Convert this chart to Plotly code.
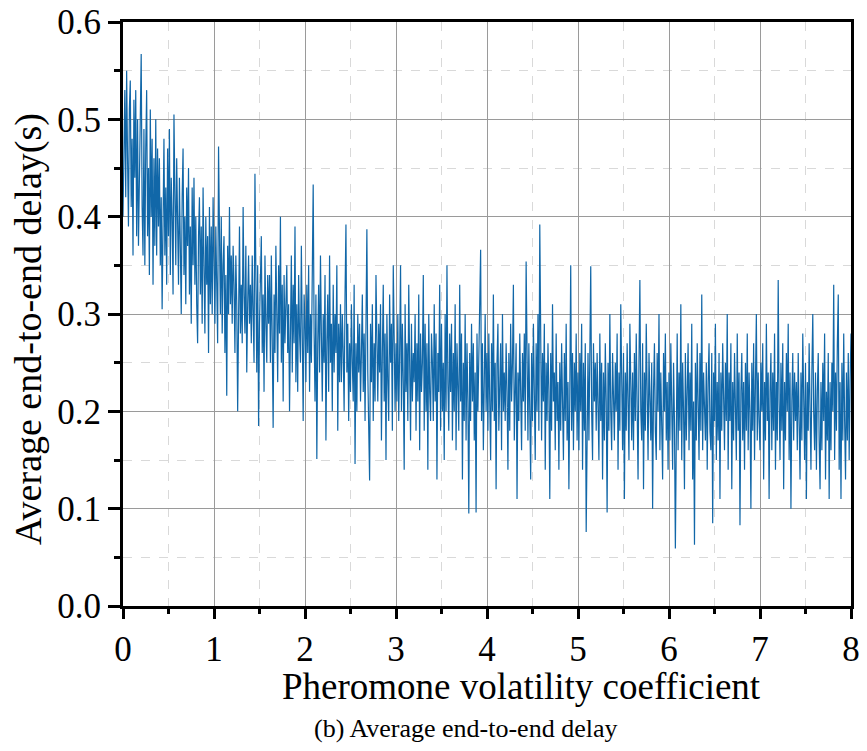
import plotly.graph_objects as go

x_start = 0.0
x_step = 0.01

delay_values = [
    0.40, 0.50, 0.53, 0.42, 0.55, 0.46, 0.39, 0.51, 0.54, 0.41, 0.48, 0.36, 0.52, 0.44, 0.53, 0.38, 0.50, 0.37, 0.46, 0.52,
    0.567, 0.41, 0.36, 0.49, 0.35, 0.47, 0.53, 0.38, 0.45, 0.34, 0.51, 0.40, 0.48, 0.33, 0.46, 0.37, 0.50, 0.36, 0.47, 0.39,
    0.46, 0.35, 0.42, 0.305, 0.45, 0.48, 0.36, 0.43, 0.33, 0.47, 0.38, 0.49, 0.34, 0.44, 0.40, 0.32, 0.505, 0.39, 0.35, 0.46,
    0.41, 0.33, 0.44, 0.36, 0.30, 0.42, 0.47, 0.34, 0.40, 0.31, 0.43, 0.37, 0.45, 0.32, 0.39, 0.29, 0.43, 0.35, 0.44, 0.33,
    0.40, 0.31, 0.27, 0.38, 0.42, 0.32, 0.39, 0.29, 0.43, 0.35, 0.28, 0.40, 0.33, 0.38, 0.26, 0.41, 0.31, 0.39, 0.30, 0.42,
    0.35, 0.29, 0.39, 0.33, 0.27, 0.472, 0.36, 0.30, 0.40, 0.28, 0.35, 0.38, 0.26, 0.34, 0.216, 0.37, 0.30, 0.41, 0.31, 0.36,
    0.29, 0.37, 0.33, 0.26, 0.36, 0.31, 0.200, 0.34, 0.39, 0.28, 0.33, 0.27, 0.41, 0.32, 0.28, 0.37, 0.24, 0.31, 0.36, 0.29,
    0.33, 0.27, 0.36, 0.30, 0.25, 0.444, 0.31, 0.24, 0.35, 0.185, 0.29, 0.34, 0.38, 0.26, 0.32, 0.22, 0.36, 0.29, 0.25, 0.34,
    0.29, 0.34, 0.25, 0.36, 0.27, 0.183, 0.32, 0.26, 0.37, 0.30, 0.23, 0.35, 0.28, 0.40, 0.25, 0.33, 0.21, 0.34, 0.27, 0.31,
    0.35, 0.26, 0.31, 0.20, 0.29, 0.36, 0.24, 0.33, 0.27, 0.39, 0.23, 0.31, 0.22, 0.34, 0.28, 0.25, 0.37, 0.29, 0.19, 0.32,
    0.29, 0.23, 0.33, 0.26, 0.35, 0.22, 0.30, 0.25, 0.34, 0.433, 0.28, 0.21, 0.32, 0.151, 0.27, 0.33, 0.24, 0.36, 0.28, 0.21,
    0.30, 0.25, 0.34, 0.17, 0.27, 0.32, 0.22, 0.36, 0.25, 0.29, 0.20, 0.33, 0.24, 0.30, 0.26, 0.35, 0.18, 0.29, 0.23, 0.31,
    0.23, 0.30, 0.26, 0.20, 0.32, 0.392, 0.24, 0.29, 0.19, 0.27, 0.22, 0.31, 0.25, 0.21, 0.33, 0.146, 0.27, 0.20, 0.30, 0.24,
    0.29, 0.21, 0.26, 0.32, 0.22, 0.28, 0.19, 0.30, 0.387, 0.24, 0.20, 0.129, 0.29, 0.23, 0.31, 0.19, 0.27, 0.21, 0.34, 0.25,
    0.21, 0.29, 0.24, 0.31, 0.17, 0.26, 0.33, 0.21, 0.28, 0.15, 0.30, 0.23, 0.19, 0.32, 0.25, 0.29, 0.18, 0.35, 0.23, 0.20,
    0.27, 0.21, 0.30, 0.19, 0.26, 0.35, 0.20, 0.29, 0.23, 0.14, 0.31, 0.22, 0.27, 0.19, 0.33, 0.24, 0.17, 0.29, 0.21, 0.26,
    0.23, 0.30, 0.18, 0.27, 0.21, 0.32, 0.16, 0.28, 0.22, 0.25, 0.34, 0.18, 0.29, 0.20, 0.27, 0.14, 0.30, 0.22, 0.19, 0.28,
    0.25, 0.19, 0.31, 0.21, 0.28, 0.13, 0.26, 0.22, 0.33, 0.18, 0.29, 0.20, 0.25, 0.15, 0.30, 0.20, 0.35, 0.23, 0.18, 0.28,
    0.22, 0.29, 0.17, 0.26, 0.20, 0.31, 0.16, 0.27, 0.23, 0.18, 0.33, 0.21, 0.28, 0.13, 0.25, 0.19, 0.30, 0.17, 0.27, 0.21,
    0.095, 0.26, 0.19, 0.29, 0.21, 0.27, 0.17, 0.24, 0.096, 0.28, 0.20, 0.25, 0.31, 0.366, 0.19, 0.27, 0.16, 0.24, 0.30, 0.20,
    0.26, 0.18, 0.28, 0.21, 0.15, 0.27, 0.20, 0.32, 0.19, 0.25, 0.12, 0.25, 0.29, 0.18, 0.23, 0.27, 0.16, 0.30, 0.20, 0.24,
    0.19, 0.27, 0.22, 0.14, 0.26, 0.18, 0.29, 0.21, 0.25, 0.33, 0.17, 0.23, 0.27, 0.11, 0.24, 0.19, 0.28, 0.22, 0.16, 0.26,
    0.21, 0.28, 0.18, 0.354, 0.24, 0.17, 0.27, 0.20, 0.13, 0.26, 0.19, 0.29, 0.22, 0.15, 0.27, 0.20, 0.30, 0.18, 0.392, 0.23,
    0.17, 0.26, 0.21, 0.29, 0.14, 0.25, 0.19, 0.27, 0.22, 0.11, 0.26, 0.18, 0.31, 0.21, 0.24, 0.16, 0.28, 0.19, 0.23, 0.14,
    0.25, 0.18, 0.27, 0.21, 0.15, 0.26, 0.19, 0.29, 0.17, 0.23, 0.12, 0.22, 0.350, 0.18, 0.26, 0.16, 0.25, 0.20, 0.28, 0.17,
    0.24, 0.16, 0.26, 0.20, 0.29, 0.14, 0.25, 0.18, 0.27, 0.076, 0.22, 0.26, 0.17, 0.24, 0.349, 0.20, 0.15, 0.27, 0.21, 0.25,
    0.18, 0.26, 0.21, 0.15, 0.28, 0.19, 0.25, 0.13, 0.24, 0.17, 0.27, 0.21, 0.096, 0.25, 0.18, 0.30, 0.20, 0.16, 0.26, 0.22,
    0.17, 0.25, 0.20, 0.28, 0.14, 0.24, 0.18, 0.31, 0.21, 0.16, 0.26, 0.11, 0.24, 0.18, 0.27, 0.20, 0.15, 0.29, 0.21, 0.17,
    0.24, 0.16, 0.26, 0.19, 0.28, 0.21, 0.13, 0.25, 0.335, 0.20, 0.17, 0.27, 0.12, 0.24, 0.18, 0.29, 0.21, 0.15, 0.26, 0.19,
    0.17, 0.25, 0.10, 0.22, 0.27, 0.18, 0.15, 0.26, 0.20, 0.30, 0.16, 0.24, 0.19, 0.13, 0.26, 0.20, 0.28, 0.17, 0.23, 0.14,
    0.24, 0.17, 0.27, 0.20, 0.14, 0.25, 0.19, 0.059, 0.22, 0.28, 0.16, 0.24, 0.18, 0.31, 0.15, 0.25, 0.20, 0.12, 0.26, 0.17,
    0.22, 0.27, 0.16, 0.24, 0.18, 0.29, 0.13, 0.21, 0.063, 0.25, 0.17, 0.27, 0.21, 0.15, 0.26, 0.18, 0.32, 0.16, 0.24, 0.20,
    0.17, 0.25, 0.14, 0.23, 0.27, 0.18, 0.16, 0.26, 0.085, 0.24, 0.19, 0.29, 0.15, 0.23, 0.17, 0.26, 0.11, 0.24, 0.18, 0.27,
    0.21, 0.16, 0.25, 0.19, 0.30, 0.14, 0.24, 0.19, 0.27, 0.12, 0.23, 0.17, 0.26, 0.20, 0.15, 0.28, 0.18, 0.24, 0.083, 0.22,
    0.26, 0.17, 0.23, 0.14, 0.25, 0.18, 0.28, 0.16, 0.24, 0.20, 0.10, 0.25, 0.18, 0.27, 0.15, 0.23, 0.30, 0.17, 0.24, 0.19,
    0.16, 0.25, 0.20, 0.27, 0.13, 0.23, 0.17, 0.29, 0.19, 0.24, 0.11, 0.22, 0.26, 0.16, 0.24, 0.18, 0.28, 0.14, 0.23, 0.17,
    0.335, 0.21, 0.15, 0.25, 0.18, 0.27, 0.12, 0.23, 0.17, 0.26, 0.20, 0.29, 0.15, 0.24, 0.10, 0.21, 0.26, 0.17, 0.24, 0.19,
    0.23, 0.16, 0.26, 0.19, 0.13, 0.24, 0.17, 0.28, 0.21, 0.15, 0.25, 0.11, 0.23, 0.18, 0.27, 0.19, 0.14, 0.24, 0.30, 0.20,
    0.16, 0.24, 0.14, 0.22, 0.26, 0.17, 0.12, 0.23, 0.16, 0.25, 0.19, 0.28, 0.13, 0.22, 0.17, 0.26, 0.11, 0.23, 0.16, 0.25,
    0.20, 0.33, 0.15, 0.24, 0.18, 0.27, 0.32, 0.14, 0.23, 0.11, 0.25, 0.17, 0.28, 0.19, 0.13, 0.24, 0.17, 0.26, 0.15, 0.23,
    0.28,
]

x_values = [round(x_start + i * x_step, 4) for i in range(len(delay_values))]

x_tick_vals = [0, 1, 2, 3, 4, 5, 6, 7, 8]
y_tick_vals = [0.0, 0.1, 0.2, 0.3, 0.4, 0.5, 0.6]

x_title = "Pheromone volatility coefficient"
y_title = "Average end-to-end delay(s)"
caption = "(b) Average end-to-end delay"

FONT = "Liberation Serif, Times New Roman, serif"

fig = go.Figure()
fig.add_trace(go.Scatter(
    x=x_values, y=delay_values, mode="lines",
    line=dict(color="#1167a8", width=1.2),
    showlegend=False,
))

axis_common = dict(
    showline=True, linecolor="black", linewidth=3, mirror=True,
    ticks="outside", tickwidth=2.5, tickcolor="black",
    showgrid=True, gridcolor="#9a9a9a", gridwidth=1,
    zeroline=False, automargin=False, ticklabeloverflow="allow",
    tickfont=dict(family=FONT, size=35, color="black"),
)

fig.update_xaxes(
    **axis_common,
    ticklen=10,
    range=[0, 8], tickvals=x_tick_vals, ticktext=[str(v) for v in x_tick_vals],
    minor=dict(dtick=0.5, tick0=0, ticks="outside", ticklen=5, tickwidth=2.5, tickcolor="black",
               showgrid=True, gridcolor="#d9d9d9", griddash="dash", gridwidth=1),
)
fig.update_yaxes(
    **axis_common,
    ticklen=12,
    range=[0, 0.6], tickvals=y_tick_vals, ticktext=[f"{v:.1f}" for v in y_tick_vals],
    minor=dict(dtick=0.05, tick0=0, ticks="outside", ticklen=6, tickwidth=2.5, tickcolor="black",
               showgrid=True, gridcolor="#d9d9d9", griddash="dash", gridwidth=1),
)

# axis titles and caption placed in pixel terms relative to the plot area
PLOT_LEFT = 123
PLOT_W = 728
PLOT_H = 584
fig.add_annotation(
    text=x_title, xref="paper", yref="paper", x=(521 - PLOT_LEFT) / PLOT_W, y=0, yshift=-80,
    showarrow=False, xanchor="center", yanchor="middle",
    font=dict(family=FONT, size=37, color="black"),
)
fig.add_annotation(
    text=y_title, xref="paper", yref="paper", x=0, xshift=-94, y=(606 - 329) / PLOT_H,
    showarrow=False, xanchor="center", yanchor="middle", textangle=-90,
    font=dict(family=FONT, size=38, color="black"),
)
fig.add_annotation(
    text=caption, xref="paper", yref="paper", x=(465 - PLOT_LEFT) / PLOT_W, y=0, yshift=-122,
    showarrow=False, xanchor="center", yanchor="middle",
    font=dict(family=FONT, size=26, color="black"),
)

# the page body adds an 8px margin on every side, so the figure is sized to fit the window exactly
fig.update_layout(
    width=851, height=735,
    margin=dict(l=115, r=8, t=14, b=137),
    plot_bgcolor="white", paper_bgcolor="white",
)

fig.write_html("out.html")
